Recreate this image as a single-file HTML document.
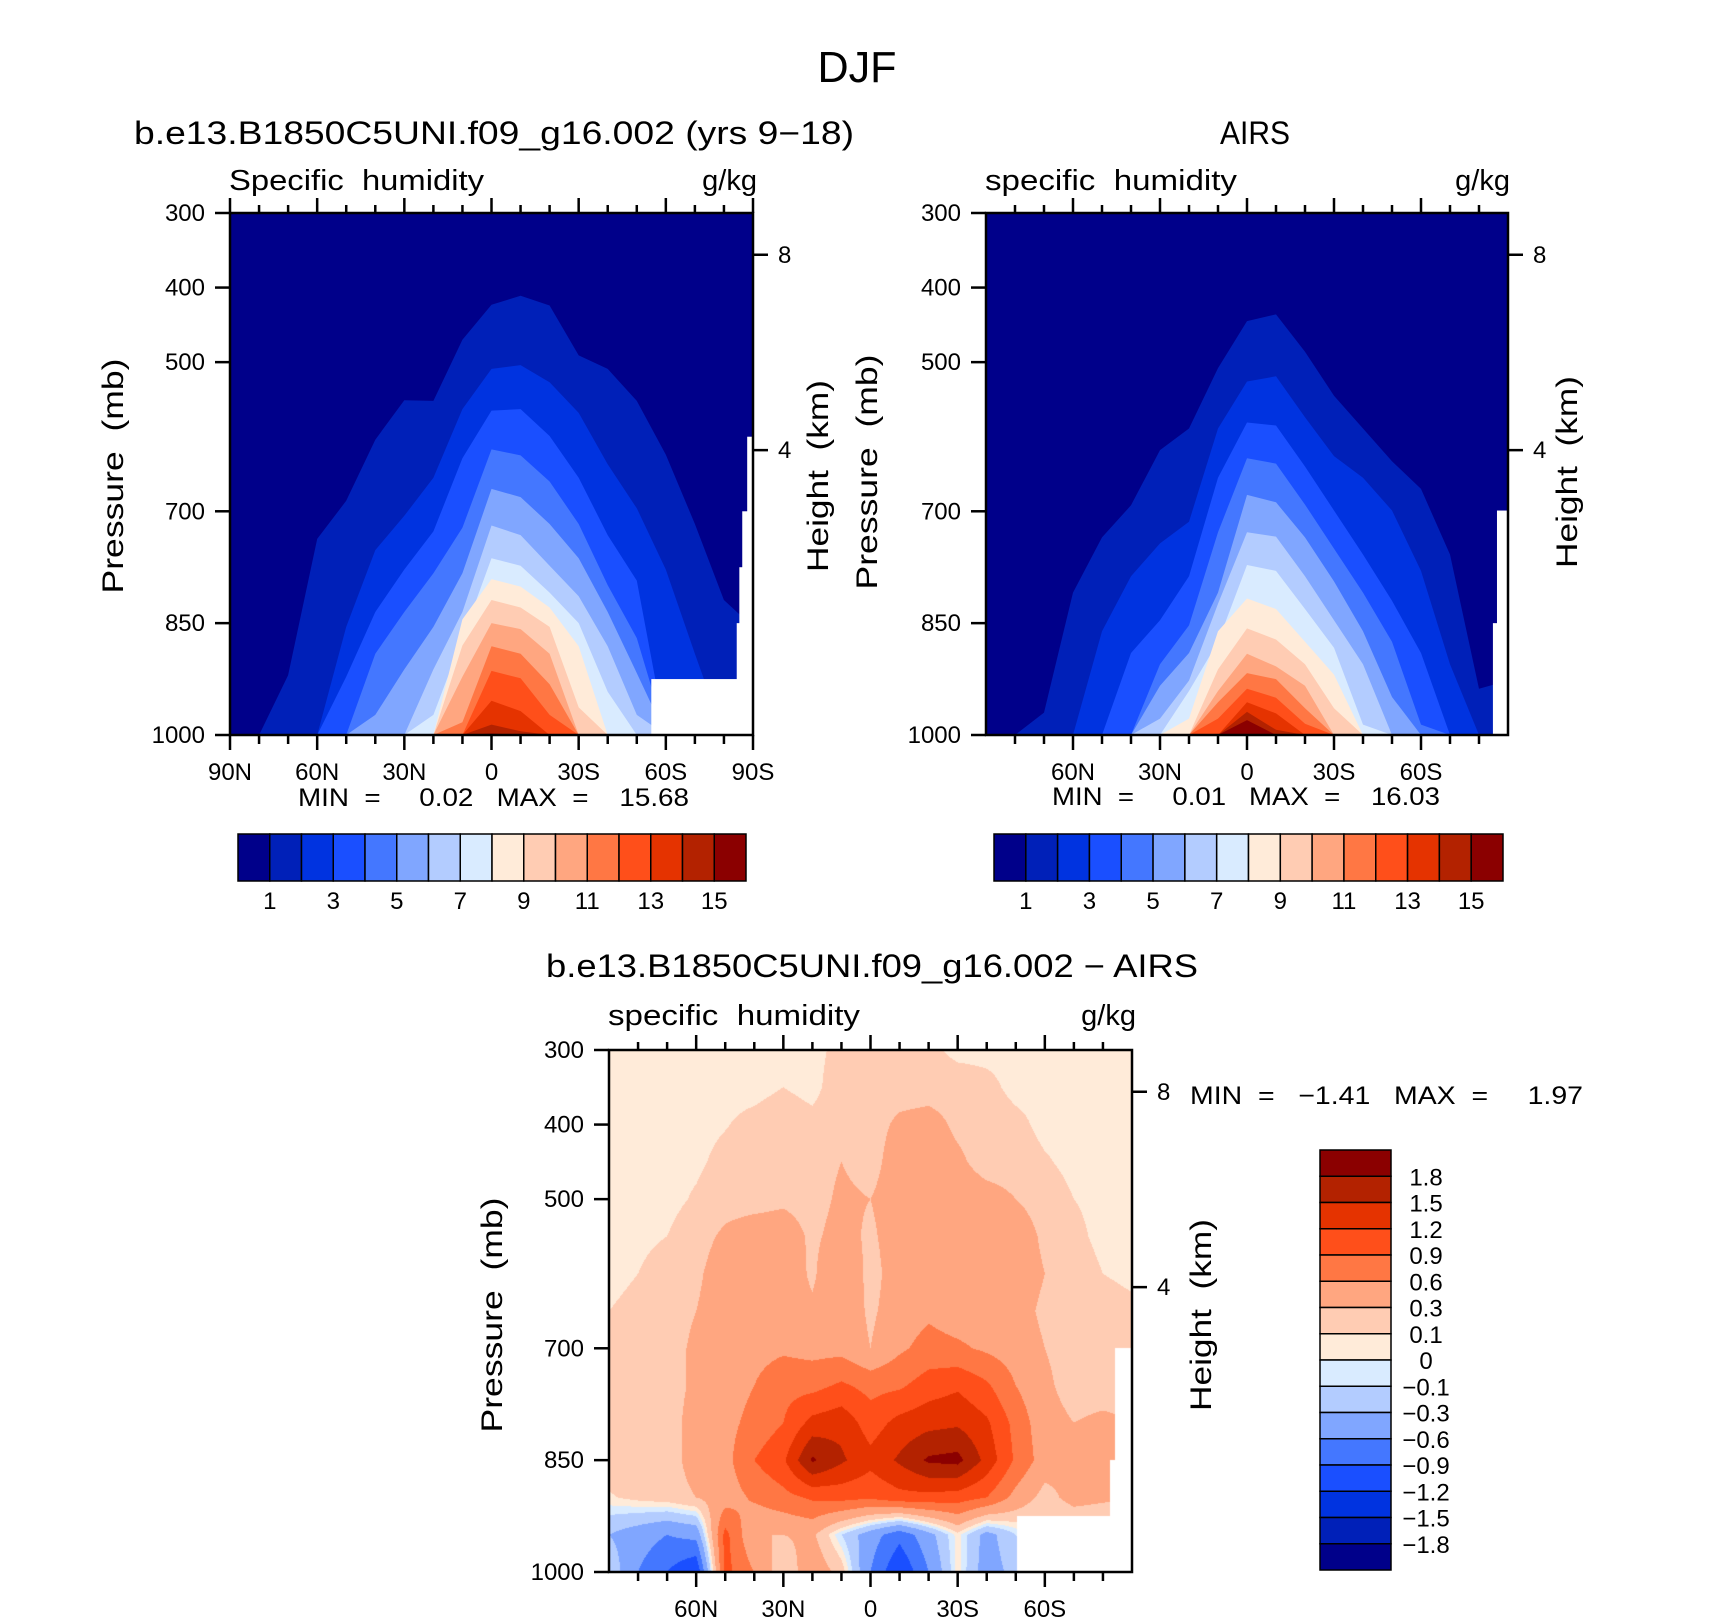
<!DOCTYPE html>
<html><head><meta charset="utf-8"><title>DJF specific humidity</title>
<style>
html,body{margin:0;padding:0;background:#fff;}
#wrap{position:relative;width:1710px;height:1621px;overflow:hidden;}
#diffCanvas{position:absolute;left:609px;top:1050px;}
#fig{position:absolute;left:0;top:0;}
text{font-family:"Liberation Sans",Arial,sans-serif;fill:#000;white-space:pre;}
</style></head>
<body>
<div id="wrap">
<canvas id="diffCanvas" width="523" height="522"></canvas>
<svg id="fig" width="1710" height="1621" xmlns="http://www.w3.org/2000/svg"></svg>
</div>
<script>
// ---------- data ----------
const lats = [90,80,70,60,50,40,30,20,10,0,-10,-20,-30,-40,-50,-60,-70,-80,-90];
const qColors = ["#00008a","#0020b8","#0033e0","#1a4fff","#4477ff","#80a6ff","#b3ccff","#d9ebff","#ffebd9","#ffccb3","#ffa680","#ff7744","#ff4f1a","#e53300","#b32200","#8b0000"];
const qLevels = [1,2,3,4,5,6,7,8,9,10,11,12,13,14,15];
const qLabels = ["1","3","5","7","9","11","13","15"];
const diffLevels = [-1.8,-1.5,-1.2,-0.9,-0.6,-0.3,-0.1,0,0.1,0.3,0.6,0.9,1.2,1.5,1.8];
const diffLabels = ["1.8","1.5","1.2","0.9","0.6","0.3","0.1","0","\u22120.1","\u22120.3","\u22120.6","\u22120.9","\u22121.2","\u22121.5","\u22121.8"];
const pressureTicks = [300,400,500,700,850,1000];
const heightTicks = ["4","8"];
const heightPressure = [618,356];
const majorLats = [90,60,30,0,-30,-60,-90];
const majorLatLabels = ["90N","60N","30N","0","30S","60S","90S"];

// pressure (mb) of the top of each contour level (>1 ... >15 g/kg) per latitude, model
const modelTops = [
 [1000,1000,920,737,686,604,551,552,470,423,411,424,491,509,552,624,717,819,855],
 [1000,1000,1000,1000,855,752,706,655,563,509,504,527,568,637,696,778,891,1000,1000],
 [1000,1000,1000,1000,922,835,778,727,629,565,563,599,655,732,793,1000,1000,1000,1000],
 [1000,1000,1000,1000,1000,891,835,783,722,617,625,660,717,799,870,1000,1000,1000,1000],
 [1000,1000,1000,1000,1000,973,912,855,783,670,681,717,763,835,917,1000,1000,1000,1000],
 [1000,1000,1000,1000,1000,1000,1000,912,835,719,732,773,814,881,973,1000,1000,1000,1000],
 [1000,1000,1000,1000,1000,1000,1000,973,870,763,773,809,850,942,1000,1000,1000,1000,1000],
 [1000,1000,1000,1000,1000,1000,1000,1000,845,791,801,829,881,1000,1000,1000,1000,1000,1000],
 [1000,1000,1000,1000,1000,1000,1000,1000,880,819,829,855,963,1000,1000,1000,1000,1000,1000],
 [1000,1000,1000,1000,1000,1000,1000,1000,922,850,858,891,1000,1000,1000,1000,1000,1000,1000],
 [1000,1000,1000,1000,1000,1000,1000,1000,983,881,891,932,1000,1000,1000,1000,1000,1000,1000],
 [1000,1000,1000,1000,1000,1000,1000,1000,1000,914,924,973,1000,1000,1000,1000,1000,1000,1000],
 [1000,1000,1000,1000,1000,1000,1000,1000,1000,954,968,1000,1000,1000,1000,1000,1000,1000,1000],
 [1000,1000,1000,1000,1000,1000,1000,1000,1000,986,995,1000,1000,1000,1000,1000,1000,1000,1000],
 [1000,1000,1000,1000,1000,1000,1000,1000,1000,998,1000,1000,1000,1000,1000,1000,1000,1000,1000]
];
// AIRS
const airsTops = [
 [1000,1000,970,809,735,692,618,589,508,445,436,486,545,589,633,670,758,938,927],
 [1000,1000,1000,1000,861,787,743,714,589,526,519,574,626,655,699,780,905,1000,1000],
 [1000,1000,1000,1000,1000,890,846,787,655,581,585,640,699,758,820,890,1000,1000,1000],
 [1000,1000,1000,1000,1000,1000,905,853,728,629,636,691,750,809,875,986,1000,1000,1000],
 [1000,1000,1000,1000,1000,1000,934,890,809,678,688,735,794,861,949,1000,1000,1000,1000],
 [1000,1000,1000,1000,1000,1000,978,927,824,728,734,787,846,905,1000,1000,1000,1000,1000],
 [1000,1000,1000,1000,1000,1000,1000,941,875,772,780,831,883,986,1000,1000,1000,1000,1000],
 [1000,1000,1000,1000,1000,1000,1000,978,861,817,831,875,919,1000,1000,1000,1000,1000,1000],
 [1000,1000,1000,1000,1000,1000,1000,1000,912,857,872,905,964,1000,1000,1000,1000,1000,1000],
 [1000,1000,1000,1000,1000,1000,1000,1000,941,891,908,934,1000,1000,1000,1000,1000,1000,1000],
 [1000,1000,1000,1000,1000,1000,1000,1000,956,917,925,964,1000,1000,1000,1000,1000,1000,1000],
 [1000,1000,1000,1000,1000,1000,1000,1000,978,938,950,985,1000,1000,1000,1000,1000,1000,1000],
 [1000,1000,1000,1000,1000,1000,1000,1000,1000,956,971,1000,1000,1000,1000,1000,1000,1000,1000],
 [1000,1000,1000,1000,1000,1000,1000,1000,1000,969,993,1000,1000,1000,1000,1000,1000,1000,1000],
 [1000,1000,1000,1000,1000,1000,1000,1000,1000,980,1000,1000,1000,1000,1000,1000,1000,1000,1000]
];
// difference grid (g/kg), rows = pressures
const diffPressures = [300,350,400,450,500,550,600,650,700,750,800,850,900,950,1000];
const diffGrid = [
 [.05,.05,.05,.05,.05,.05,.05,.05,.15,.2,.2,.15,.05,.05,.05,.05,.05,.05,.05],
 [.05,.05,.05,.05,.05,.05,.1,.05,.2,.2,.2,.2,.2,.15,.05,.05,.05,.05,.05],
 [.05,.05,.05,.05,.09,.15,.2,.15,.2,.2,.35,.4,.25,.2,.15,.05,.05,.05,.05],
 [.05,.05,.05,.07,.15,.2,.2,.2,.3,.2,.45,.45,.35,.2,.2,.12,.05,.05,.05],
 [.05,.05,.05,.12,.2,.2,.25,.2,.35,.3,.45,.5,.45,.4,.3,.2,.1,.05,.05],
 [.05,.05,.1,.2,.35,.45,.45,.25,.4,.25,.45,.5,.5,.5,.45,.25,.15,.05,.05],
 [.05,.1,.2,.25,.45,.5,.5,.25,.6,.2,.45,.5,.5,.5,.45,.3,.2,.1,.05],
 [.1,.15,.2,.3,.45,.45,.45,.35,.5,.25,.45,.55,.45,.45,.4,.25,.2,.2,.15],
 [.15,.2,.2,.35,.45,.5,.55,.5,.5,.3,.55,.7,.65,.55,.45,.3,.2,.2,.2],
 [.2,.2,.2,.35,.45,.6,.8,.8,.95,.8,.85,1.05,1.15,.95,.6,.35,.2,.2,.2],
 [.2,.2,.2,.4,.5,.7,.9,1.3,1.4,1.05,1.3,1.4,1.45,1.25,.8,.4,.3,.35,.3],
 [.2,.2,.2,.4,.5,.9,1.15,1.85,1.55,1.3,1.55,1.85,1.9,1.4,.85,.45,.35,.45,.3],
 [.08,.15,.2,.3,.45,.65,.8,.95,1.0,.95,1.1,1.1,1.05,.9,.5,.2,.4,.35,.3],
 [-.3,-.45,-.6,-.5,1.0,.3,.3,.35,-.1,-.45,-.8,-.4,.05,-.4,-.1,0,0,0,0],
 [-.1,-.6,-.9,-1.2,1.0,.6,.1,.5,.2,-.6,-1.2,-.6,.05,-.45,-.2,0,0,0,0]
];
// missing-data boxes: [latFrom, latTo, pressureFrom]
const modelMissing = [[-55,-90,925],[-88,-90,600],[-86.3,-90,700],[-85.3,-90,775],[-84.4,-90,850]];
const airsMissing = [[-86.2,-90,699],[-84.8,-90,850]];
const diffMissing = [[-50.5,-90,925],[-84.3,-90,700],[-82.5,-90,850]];

// ---------- helpers ----------
const NS = "http://www.w3.org/2000/svg";
const svg = document.getElementById("fig");
function mk(tag, attrs, parent) {
  const e = document.createElementNS(NS, tag);
  for (const k in attrs) e.setAttribute(k, attrs[k]);
  (parent || svg).appendChild(e);
  return e;
}
function txt(str, attrs, parent) { const t = mk("text", attrs, parent); t.textContent = str; return t; }

function makeAxes(left, top, W, H) {
  return {left, top, W, H,
    x: lat => left + (90 - lat) / 180 * W,
    y: p => top + (p - 300) / 700 * H};
}
const P1 = makeAxes(230, 213, 523, 522);
const P2 = makeAxes(986, 213, 522, 522);
const P3 = makeAxes(609, 1050, 523, 522);

function drawProfiles(ax, tops, missing, name) {
  const g = mk("g", {});
  
  
  const bg = mk("rect", {x: ax.left, y: ax.top, width: ax.W, height: ax.H, fill: qColors[0]}, g);
  
  
  tops.forEach((row, k) => {
    let pts = row.map((p, i) => ax.x(lats[i]).toFixed(1) + "," + ax.y(p).toFixed(1));
    pts.push(ax.x(-90) + "," + ax.y(1000));
    pts.push(ax.x(90) + "," + ax.y(1000));
    const poly = mk("polygon", {points: pts.join(" "), fill: qColors[k + 1]}, g);
    
    
  });
  drawMissing(ax, missing, name);
}
function drawMissing(ax, missing, name) {
  missing.forEach(m => {
    const x0 = ax.x(m[0]), x1 = ax.x(m[1]);
    const r = mk("rect", {x: x0, y: ax.y(m[2]), width: x1 - x0, height: ax.y(1000) - ax.y(m[2]), fill: "#fff"});
    
    
  });
}

function drawFrame(ax, name, edgeLabels) {
  const g = mk("g", {stroke: "#000", "stroke-width": 2.5, fill: "none"});
  
  
  const fr = mk("rect", {x: ax.left, y: ax.top, width: ax.W, height: ax.H}, g);
  
  
  const b = ax.top + ax.H;
  for (let lat = 90; lat >= -90; lat -= 10) {
    if (!edgeLabels && Math.abs(lat) === 90) continue;
    const major = lat % 30 === 0;
    const x = ax.x(lat);
    const t1 = mk("line", {x1: x, x2: x, y1: b, y2: b + (major ? 15 : 9)}, g);
    
    
    const t2 = mk("line", {x1: x, x2: x, y1: ax.top, y2: ax.top - (major ? 15 : 8)}, g);
    
    
  }
  majorLats.forEach((lat, i) => {
    if (!edgeLabels && Math.abs(lat) === 90) return;
    const t = txt(majorLatLabels[i], {x: ax.x(lat), y: b + 45, "font-size": 24, "text-anchor": "middle"});
    
    
  });
  pressureTicks.forEach(p => {
    const y = ax.y(p);
    const l = mk("line", {x1: ax.left - 15, x2: ax.left, y1: y, y2: y}, g);
    
    
    const t = txt(String(p), {x: ax.left - 25, y: y + 8, "font-size": 24, "text-anchor": "end"});
    
    
  });
  heightTicks.forEach((h, i) => {
    const y = ax.y(heightPressure[i]);
    const r = ax.left + ax.W;
    const l = mk("line", {x1: r, x2: r + 15, y1: y, y2: y}, g);
    
    
    const t = txt(h, {x: r + 25, y: y + 8, "font-size": 24});
    
    
  });
}

function axisTitles(cx1, cx2, cy, name) {
  const a = txt("Pressure  (mb)", {x: 0, y: 0, "font-size": 30, "text-anchor": "middle", textLength: 235, lengthAdjust: "spacingAndGlyphs", transform: `translate(${cx1 + 10},${cy}) rotate(-90)`});
  
  
  const b = txt("Height  (km)", {x: 0, y: 0, "font-size": 30, "text-anchor": "middle", textLength: 192, lengthAdjust: "spacingAndGlyphs", transform: `translate(${cx2 + 10},${cy}) rotate(-90)`});
  
  
}

function hColorbar(x0, x1, y0, y1, name) {
  const w = (x1 - x0) / qColors.length;
  qColors.forEach((c, i) => {
    const r = mk("rect", {x: x0 + i * w, y: y0, width: w, height: y1 - y0, fill: c, stroke: "#000", "stroke-width": 1.5});
    
    
  });
  qLabels.forEach((s, i) => {
    const k = 2 * i + 1;
    const t = txt(s, {x: x0 + k * w, y: 909, "font-size": 24, "text-anchor": "middle"});
    
    
  });
}

// ---------- plot 1 & 2 ----------
drawProfiles(P1, modelTops, modelMissing, "model");
drawProfiles(P2, airsTops, airsMissing, "airs");

// ---------- plot 3 (canvas field) ----------
(function () {
  const cv = document.getElementById("diffCanvas");
  const ctx = cv.getContext("2d");
  const img = ctx.createImageData(cv.width, cv.height);
  const rgb = qColors.map(h => [parseInt(h.substr(1, 2), 16), parseInt(h.substr(3, 2), 16), parseInt(h.substr(5, 2), 16)]);
  for (let py = 0; py < cv.height; py++) {
    const p = 300 + (py + 0.5) / cv.height * 700;
    let r = Math.min(diffPressures.length - 2, Math.floor((p - 300) / 50));
    const fy = (p - diffPressures[r]) / 50;
    for (let px = 0; px < cv.width; px++) {
      const lat = 90 - (px + 0.5) / cv.width * 180;
      let c = Math.min(lats.length - 2, Math.floor((90 - lat) / 10));
      const fx = (lats[c] - lat) / 10;
      const v = (1 - fy) * ((1 - fx) * diffGrid[r][c] + fx * diffGrid[r][c + 1]) +
                fy * ((1 - fx) * diffGrid[r + 1][c] + fx * diffGrid[r + 1][c + 1]);
      let k = 0; while (k < diffLevels.length && v >= diffLevels[k]) k++;
      let col = rgb[k];
      for (const m of diffMissing) if (lat <= m[0] && p >= m[2]) col = [255, 255, 255];
      const o = (py * cv.width + px) * 4;
      img.data[o] = col[0]; img.data[o + 1] = col[1]; img.data[o + 2] = col[2]; img.data[o + 3] = 255;
    }
  }
  ctx.putImageData(img, 0, 0);
})();

// ---------- axes ----------
drawFrame(P1, "model", true);
drawFrame(P2, "airs", false);
drawFrame(P3, "diff", false);
axisTitles(113, 818, 476, "model");
axisTitles(867, 1567, 472, "airs");
axisTitles(492, 1201, 1315, "diff");

// ---------- titles ----------
let t;
t = txt("DJF", {x: 857, y: 82, "font-size": 44, "text-anchor": "middle", textLength: 79, lengthAdjust: "spacingAndGlyphs"});


t = txt("b.e13.B1850C5UNI.f09_g16.002 (yrs 9\u221218)", {x: 134, y: 144, "font-size": 32, textLength: 720, lengthAdjust: "spacingAndGlyphs"});


t = txt("AIRS", {x: 1220, y: 144, "font-size": 32, textLength: 70, lengthAdjust: "spacingAndGlyphs"});


t = txt("b.e13.B1850C5UNI.f09_g16.002 \u2212 AIRS", {x: 546, y: 977, "font-size": 32, textLength: 652, lengthAdjust: "spacingAndGlyphs"});



t = txt("Specific  humidity", {x: 229, y: 190, "font-size": 29, textLength: 255, lengthAdjust: "spacingAndGlyphs"});


t = txt("g/kg", {x: 757, y: 190, "font-size": 29, "text-anchor": "end"});


t = txt("specific  humidity", {x: 985, y: 190, "font-size": 29, textLength: 252, lengthAdjust: "spacingAndGlyphs"});


t = txt("g/kg", {x: 1510, y: 190, "font-size": 29, "text-anchor": "end"});


t = txt("specific  humidity", {x: 608, y: 1025, "font-size": 29, textLength: 252, lengthAdjust: "spacingAndGlyphs"});


t = txt("g/kg", {x: 1136, y: 1025, "font-size": 29, "text-anchor": "end"});



t = txt("MIN  =     0.02   MAX  =    15.68", {x: 298, y: 806, "font-size": 25, textLength: 391, lengthAdjust: "spacingAndGlyphs"});


t = txt("MIN  =     0.01   MAX  =    16.03", {x: 1052, y: 805, "font-size": 25, textLength: 388, lengthAdjust: "spacingAndGlyphs"});


t = txt("MIN  =   \u22121.41   MAX  =     1.97", {x: 1190, y: 1104, "font-size": 25, textLength: 393, lengthAdjust: "spacingAndGlyphs"});



// ---------- colorbars ----------
hColorbar(238, 746, 834, 881, "model");
hColorbar(994, 1503, 834, 881, "airs");
(function () {
  const x0 = 1320, x1 = 1391, y0 = 1150, y1 = 1570;
  const h = (y1 - y0) / qColors.length;
  for (let i = 0; i < qColors.length; i++) {
    const r = mk("rect", {x: x0, y: y0 + i * h, width: x1 - x0, height: h, fill: qColors[qColors.length - 1 - i], stroke: "#000", "stroke-width": 1.5});
    
    
  }
  diffLabels.forEach((s, i) => {
    const tt = txt(s, {x: 1426, y: y0 + (i + 1) * h + 9, "font-size": 24, "text-anchor": "middle"});
    
    
  });
})();
</script>
</body></html>
